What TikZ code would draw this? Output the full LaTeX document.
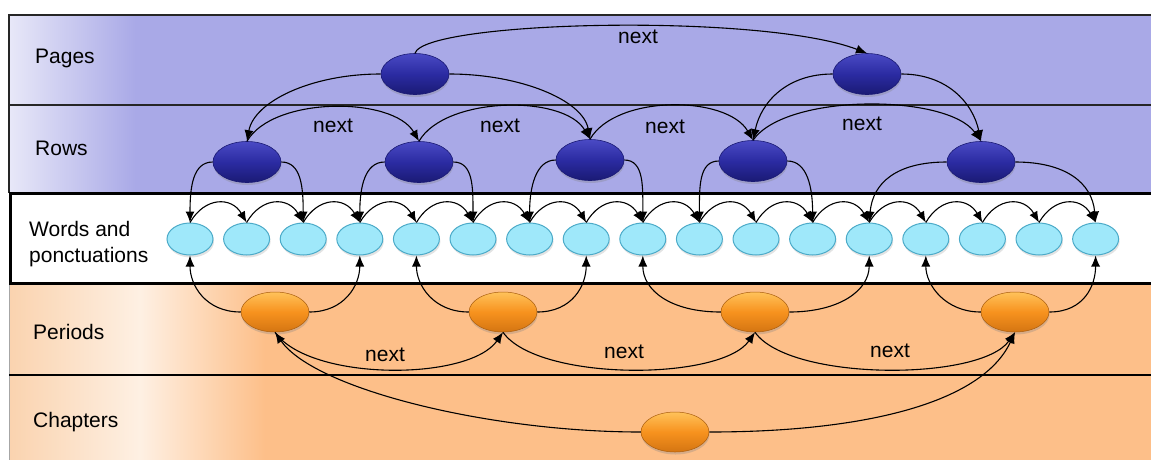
\documentclass[tikz,border=0pt]{standalone}
\usepackage{fontspec}
\setmainfont{Liberation Sans}
\usetikzlibrary{arrows.meta,shapes.geometric,shadows}
\definecolor{lav}{HTML}{A9A9E7}
\definecolor{lavlight}{HTML}{E8E8F8}
\definecolor{org}{HTML}{FDBF89}
\definecolor{orglight}{HTML}{FEF0E3}
\definecolor{orgedge}{HTML}{FAD3AF}
\definecolor{navytop}{HTML}{4A4AC4}
\definecolor{navymid}{HTML}{2B2BA2}
\definecolor{navybot}{HTML}{1A1A74}
\definecolor{ortop}{HTML}{FFC25A}
\definecolor{ormid}{HTML}{F7921E}
\definecolor{orbot}{HTML}{D47512}
\definecolor{cyanfill}{HTML}{9FE8FA}
\definecolor{cyanline}{HTML}{4BAAC8}
\tikzset{
  navynode/.style={ellipse, minimum width=68pt, minimum height=41pt, inner sep=0pt,
    top color=navytop, bottom color=navybot, middle color=navymid,
    draw=navybot, line width=0.6pt,
    drop shadow={shadow xshift=0.5pt, shadow yshift=-2.5pt, opacity=0.3}},
  orangenode/.style={ellipse, minimum width=68pt, minimum height=40pt, inner sep=0pt,
    top color=ortop, bottom color=orbot, middle color=ormid,
    draw=orbot!80!black, line width=0.5pt,
    drop shadow={shadow xshift=0.5pt, shadow yshift=-2.5pt, opacity=0.3}},
  wordnode/.style={ellipse, minimum width=46pt, minimum height=32pt, inner sep=0pt,
    fill=cyanfill, draw=cyanline, line width=1pt,
    drop shadow={shadow xshift=1pt, shadow yshift=-2.5pt, opacity=0.22}},
  bandlabel/.style={font=\fontsize{21}{26}\selectfont, anchor=west, inner sep=0pt, align=left},
  nextlabel/.style={font=\fontsize{21}{25}\selectfont, inner sep=0pt},
  conn/.style={-{Latex[length=11pt,width=9pt]}, line width=1.1pt, black},
}
\begin{document}
\begin{tikzpicture}[x=1pt,y=1pt]
\useasboundingbox (0,0) rectangle (1151,-459);
\fill[white] (0,0) rectangle (1151,-459);
% ---------- bands ----------
\begin{scope}
\clip (0,0) rectangle (1151,-459);
\fill[lav] (9,-15) rectangle (1165,-193);
\shade[left color=lavlight, right color=lav] (9,-15) rectangle (135,-193);
\draw[line width=1.2pt, black!85] (1165,-15) -- (9,-15) -- (9,-193);
\draw[line width=1.2pt, black!85] (9,-105) -- (1165,-105);
\fill[org] (9,-283) rectangle (1165,-470);
\shade[left color=orgedge, right color=orglight] (9,-283) rectangle (140,-470);
\shade[left color=orglight, right color=org] (140,-283) rectangle (265,-470);
\draw[line width=1pt, black!35] (9,-283) -- (9,-470);
\draw[line width=2pt, black] (9,-375) -- (1165,-375);
\draw[line width=3pt, fill=white] (10.5,-193) rectangle (1170,-283);
\end{scope}
% ---------- band labels ----------
\node[bandlabel] (lpages) at (35,-58) {Pages};
\node[bandlabel] (lrows) at (35,-148) {Rows};
\node[bandlabel] (lwords) at (29,-244) {Words and\\ponctuations};
\node[bandlabel] (lperiods) at (33,-332) {Periods};
\node[bandlabel] (lchapters) at (33,-422) {Chapters};
% ---------- nodes ----------
\node[navynode] (P1) at (415,-74) {};
\node[navynode] (P2) at (867,-74) {};
\node[navynode] (R1) at (247,-162) {};
\node[navynode] (R2) at (419,-162) {};
\node[navynode] (R3) at (590,-160) {};
\node[navynode] (R4) at (753,-161) {};
\node[navynode] (R5) at (981,-162) {};
\foreach \i in {0,...,16} \node[wordnode] (W\i) at ({190+56.6*\i},-239) {};
\node[orangenode] (E1) at (275,-312) {};
\node[orangenode] (E2) at (503,-312) {};
\node[orangenode] (E3) at (755,-312) {};
\node[orangenode] (E4) at (1015,-312) {};
\node[orangenode] (C1) at (675,-432) {};
% ---------- pages ----------
\draw[conn] (P1.north) to[out=73,in=159,out distance=34,in distance=113] (P2.north);
\node[nextlabel] (np) at (638,-37) {next};
\draw[conn] (P1.west) to[out=180,in=80,out distance=70,in distance=40] (R1.north);
\draw[conn] (P1.east) to[out=0,in=100,out distance=70,in distance=40] (R3.north);
\draw[conn] (P2.west) to[out=180,in=78,out distance=45,in distance=40] (R4.north);
\draw[conn] (P2.east) to[out=0,in=102,out distance=45,in distance=40] (R5.north);
% ---------- rows ----------
\draw[conn] (R1.north) to[out=60,in=120,distance=52] (R2.north);
\draw[conn] (R2.north) to[out=60,in=120,distance=52] (R3.north);
\draw[conn] (R3.north) to[out=60,in=120,distance=52] (R4.north);
\draw[conn] (R4.north) to[out=55,in=125,distance=58] (R5.north);
\node[nextlabel] (nr1) at (333,-126) {next};
\node[nextlabel] (nr2) at (500,-126) {next};
\node[nextlabel] (nr3) at (665,-127) {next};
\node[nextlabel] (nr4) at (862,-124) {next};
\draw[conn] (R1.west) to[out=180,in=90,out distance=20,in distance=35] (W0.north);
\draw[conn] (R1.east) to[out=0,in=90,out distance=20,in distance=35] (W2.north);
\draw[conn] (R2.west) to[out=180,in=90,out distance=20,in distance=35] (W3.north);
\draw[conn] (R2.east) to[out=0,in=90,out distance=20,in distance=35] (W5.north);
\draw[conn] (R3.west) to[out=180,in=90,out distance=20,in distance=35] (W6.north);
\draw[conn] (R3.east) to[out=0,in=90,out distance=20,in distance=35] (W8.north);
\draw[conn] (R4.west) to[out=180,in=90,out distance=20,in distance=35] (W9.north);
\draw[conn] (R4.east) to[out=0,in=90,out distance=20,in distance=35] (W11.north);
\draw[conn] (R5.west) to[out=180,in=85,out distance=50,in distance=40] (W12.north);
\draw[conn] (R5.east) to[out=0,in=95,out distance=50,in distance=40] (W16.north);
% ---------- words ----------
\foreach \i [count=\j from 1] in {0,...,15}
  \draw[conn] (W\i.north) to[out=60,in=120,distance=30] (W\j.north);
% ---------- periods ----------
\draw[conn] (E1.west) to[out=180,in=-90,out distance=35,in distance=30] (W0.south);
\draw[conn] (E1.east) to[out=0,in=-90,out distance=35,in distance=30] (W3.south);
\draw[conn] (E2.west) to[out=180,in=-90,out distance=35,in distance=30] (W4.south);
\draw[conn] (E2.east) to[out=0,in=-90,out distance=35,in distance=30] (W7.south);
\draw[conn] (E3.west) to[out=180,in=-90,out distance=50,in distance=35] (W8.south);
\draw[conn] (E3.east) to[out=0,in=-90,out distance=50,in distance=35] (W12.south);
\draw[conn] (E4.west) to[out=180,in=-90,out distance=35,in distance=30] (W13.south);
\draw[conn] (E4.east) to[out=0,in=-90,out distance=35,in distance=30] (W16.south);
\draw[conn] (E1.south) to[out=-55,in=-125,distance=60] (E2.south);
\draw[conn] (E2.south) to[out=-55,in=-125,distance=60] (E3.south);
\draw[conn] (E3.south) to[out=-55,in=-125,distance=60] (E4.south);
\node[nextlabel] (ne1) at (385,-355) {next};
\node[nextlabel] (ne2) at (624,-352) {next};
\node[nextlabel] (ne3) at (890,-351) {next};
% ---------- chapters ----------
\draw[conn] (C1.west) to[out=180,in=-55,out distance=150,in distance=70] (E1.south);
\draw[conn] (C1.east) to[out=0,in=-115,out distance=150,in distance=80] (E4.south);
\end{tikzpicture}
\end{document}
